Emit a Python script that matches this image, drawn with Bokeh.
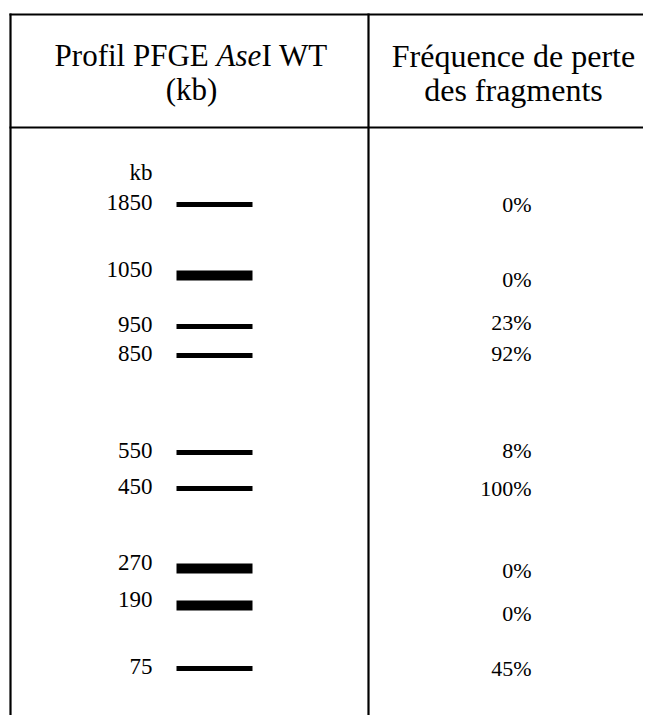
from bokeh.plotting import figure
from bokeh.models import Range1d, ColumnDataSource
from bokeh.core.properties import value
from bokeh.embed import file_html
from bokeh.resources import INLINE

# ---- data ----
fragments_kb = ["1850", "1050", "950", "850", "550", "450", "270", "190", "75"]
loss_freq = ["0%", "0%", "23%", "92%", "8%", "100%", "0%", "0%", "45%"]
band_strong = [False, True, False, False, False, False, True, True, False]
migration = [204, 275, 326, 355, 452, 488, 568, 605, 668]   # band position on the gel (px)
# layout: vertical offset of each percentage relative to its band
pct_offset = [0, 4, -4, -2, -2, 0, 2, 8, 0]

FONT = value("Liberation Serif")

W, H = 643, 715
p = figure(width=W, height=H, output_backend="svg", toolbar_location=None,
           x_range=Range1d(0, W), y_range=Range1d(H, 0),
           min_border=0, min_border_left=0, min_border_right=0,
           min_border_top=0, min_border_bottom=0)
p.axis.visible = False
p.grid.visible = False
p.outline_line_color = None
p.background_fill_color = "white"
p.border_fill_color = "white"

# table frame
p.segment(x0=[9, 9], y0=[14, 127], x1=[660, 660], y1=[14, 127], line_color="black", line_width=2.2)
p.segment(x0=[10, 368], y0=[13, 13], x1=[10, 368], y1=[730, 730], line_color="black", line_width=2.2)

# header, left column (mixed italics)
hs = "31px"
p.text(x=[216], y=[55], text=["Profil PFGE "], text_font=FONT, text_font_size=hs,
       text_align="right", text_baseline="middle", text_color="black")
p.text(x=[216], y=[55], text=["Ase"], text_font=FONT, text_font_size=hs, text_font_style="italic",
       text_align="left", text_baseline="middle", text_color="black")
p.text(x=[261], y=[55], text=["I WT"], text_font=FONT, text_font_size=hs,
       text_align="left", text_baseline="middle", text_color="black")
p.text(x=[191], y=[89], text=["(kb)"], text_font=FONT, text_font_size=hs,
       text_align="center", text_baseline="middle", text_color="black")
# header, right column
p.text(x=[513, 513], y=[55, 89], text=["Fréquence de perte", "des fragments"], text_font=FONT,
       text_font_size="32px", text_align="center", text_baseline="middle", text_color="black")

# bands
src = ColumnDataSource(dict(
    y=migration,
    h=[10 if s else 5 for s in band_strong],
    kb=fragments_kb,
    ly=[m - (6 if s else 2) for m, s in zip(migration, band_strong)],
    pct=loss_freq,
    py=[m + o for m, o in zip(migration, pct_offset)],
))
p.hbar(y="y", left=176, right=252, height="h", source=src, fill_color="black", line_color=None)
p.text(x=152, y="ly", text="kb", source=src, text_font=FONT, text_font_size="23px",
       text_align="right", text_baseline="middle", text_color="black")
p.text(x=[152], y=[172], text=["kb"], text_font=FONT, text_font_size="23px",
       text_align="right", text_baseline="middle", text_color="black")
p.text(x=531, y="py", text="pct", source=src, text_font=FONT, text_font_size="22px",
       text_align="right", text_baseline="middle", text_color="black")

open("out.html", "w").write(file_html(p, INLINE))
